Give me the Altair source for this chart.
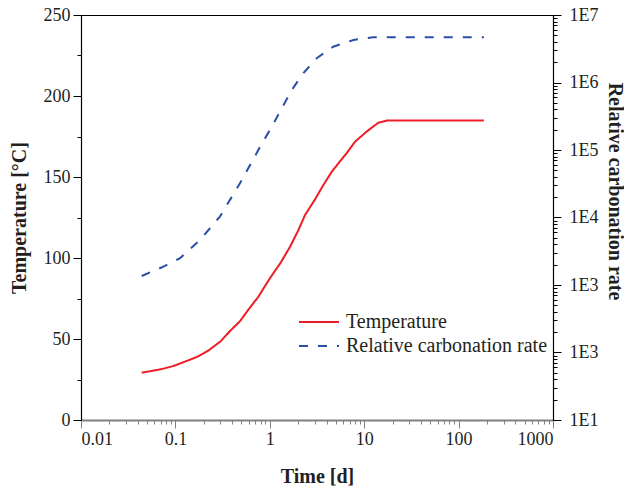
import altair as alt
import pandas as pd

# ---- data ----
time_temp = [0.044, 0.07, 0.095, 0.126, 0.17, 0.223, 0.3, 0.38, 0.483, 0.6, 0.755,
             1.0, 1.3, 1.64, 2.0, 2.36, 3.0, 3.69, 4.5, 5.32, 6.5, 8.0, 10.6, 14.1,
             17.3, 185]
temperature = [29.2, 31.3, 33.3, 36.0, 39.0, 42.8, 48.5, 55.0, 61.0, 68.5, 76.0,
               87.4, 97.0, 107.0, 117.0, 126.5, 136.0, 145.0, 153.0, 158.4, 164.6,
               171.8, 178.0, 183.5, 184.8, 184.8]

time_rate = [0.044, 0.072, 0.112, 0.182, 0.296, 0.483, 0.79, 1.05, 1.34, 1.71,
             2.27, 3.14, 4.7, 7.7, 12.5, 185]
carb_rate = [1360, 1830, 2490, 4650, 10300, 32100, 112000, 221000, 417000,
             776000, 1380000, 2290000, 3390000, 4270000, 4680000, 4680000]

series_names = ["Temperature", "Relative carbonation rate"]
line_colors = ["#ee1c24", "#2b4ea6"]
dash_styles = [[1, 0], [9, 10]]

x_tick_values = [0.01, 0.02, 0.03, 0.04, 0.05, 0.06, 0.07, 0.08, 0.09,
                 0.1, 0.2, 0.3, 0.4, 0.5, 0.6, 0.7, 0.8, 0.9,
                 1, 2, 3, 4, 5, 6, 7, 8, 9,
                 10, 20, 30, 40, 50, 60, 70, 80, 90,
                 100, 200, 300, 400, 500, 600, 700, 800, 900, 1000]
left_tick_values = [0, 25, 50, 75, 100, 125, 150, 175, 200, 225, 250]
right_tick_values = [m * 10 ** e for e in range(1, 7) for m in range(1, 10)] + [10 ** 7]
right_labels = ["1E1", "1E3", "1E3", "1E4", "1E5", "1E6", "1E7"]

df_t = pd.DataFrame({"time": time_temp, "temp": temperature, "series": series_names[0]})
df_r = pd.DataFrame({"time": time_rate, "rate": carb_rate, "series": series_names[1]})

FONT = "Liberation Serif"
TXT = "#231f20"
is_decade = "abs(log(datum.value)/LN10 - round(log(datum.value)/LN10)) < 0.001"

x_enc = alt.X(
    "time:Q",
    scale=alt.Scale(type="log", domain=[0.01, 1000], nice=False),
    axis=alt.Axis(
        title="Time [d]", values=x_tick_values,
        labelExpr=f"{is_decade} ? format(datum.value, '~g') : ''",
        tickSize={"condition": {"test": is_decade, "value": 8}, "value": 4},
        domainColor="#808080", domainWidth=2, tickColor="#808080",
        labelPadding=2, titlePadding=18, labelOverlap=False,
    ),
)

legend = alt.Legend(
    title=None, orient="none", legendX=217, legendY=296,
    symbolType="stroke", symbolSize=1600, symbolStrokeWidth=2,
    labelFont=FONT, labelFontSize=20, labelColor=TXT, labelOffset=6,
    labelLimit=400, rowPadding=2, clipHeight=22,
)

color_enc = alt.Color("series:N", scale=alt.Scale(domain=series_names, range=line_colors), legend=legend)
dash_enc = alt.StrokeDash("series:N", scale=alt.Scale(domain=series_names, range=dash_styles), legend=legend)

temp_line = alt.Chart(df_t).mark_line(strokeWidth=2).encode(
    x=x_enc,
    y=alt.Y(
        "temp:Q",
        scale=alt.Scale(domain=[0, 250], nice=False),
        axis=alt.Axis(
            title="Temperature [°C]", values=left_tick_values,
            labelExpr="datum.value % 50 === 0 ? datum.label : ''",
            tickSize={"condition": {"test": "datum.value % 50 === 0", "value": 8}, "value": 4},
            labelPadding=3, titlePadding=14, labelOverlap=False,
        ),
    ),
    color=color_enc,
    strokeDash=dash_enc,
)

rate_label_expr = (
    f"{is_decade} ? ["
    + ",".join(f"'{s}'" for s in right_labels)
    + "][round(log(datum.value)/LN10) - 1] : ''"
)

rate_line = alt.Chart(df_r).mark_line(strokeWidth=2).encode(
    x=x_enc,
    y=alt.Y(
        "rate:Q",
        scale=alt.Scale(type="log", domain=[10, 1e7], nice=False),
        axis=alt.Axis(
            title="Relative carbonation rate", orient="right", values=right_tick_values,
            labelExpr=rate_label_expr,
            tickSize={"condition": {"test": is_decade, "value": 8}, "value": 4},
            labelPadding=8, titlePadding=7, titleY=176, labelOverlap=False,
        ),
    ),
    color=color_enc,
    strokeDash=dash_enc,
)

chart = (
    alt.layer(temp_line, rate_line)
    .resolve_scale(y="independent")
    .properties(
        width=472, height=405,
        autosize=alt.AutoSizeParams(type="none"),
        padding={"left": 73, "top": 7, "right": 71, "bottom": 66},
    )
    .configure_view(stroke="black", strokeWidth=1)
    .configure_axis(
        grid=False, labelFont=FONT, labelFontSize=18, labelColor=TXT,
        titleFont=FONT, titleFontSize=20, titleFontWeight="bold", titleColor=TXT,
        domainColor="black", tickColor="black", domainWidth=1.2,
    )
)

chart.save("out.html", embed_options={"renderer": "svg", "actions": False})
